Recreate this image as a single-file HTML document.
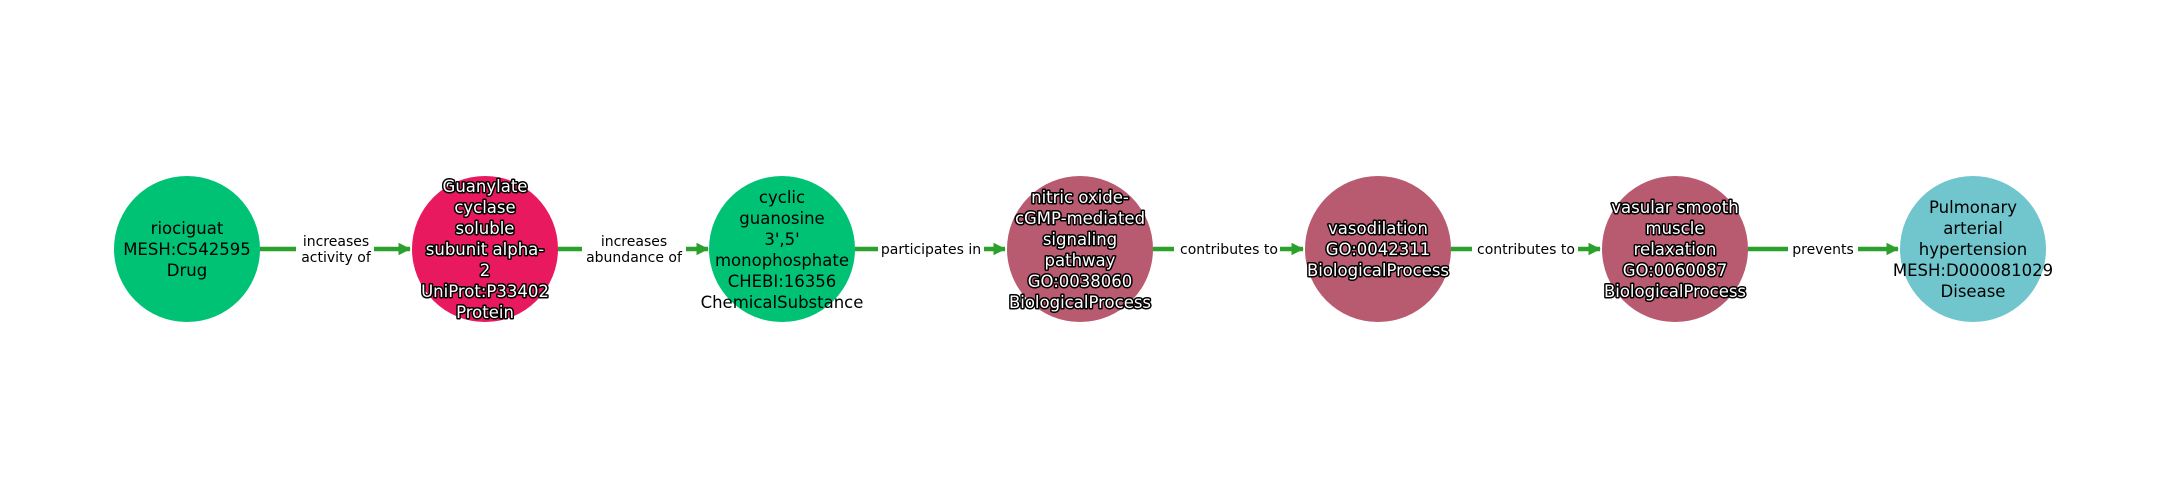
<!DOCTYPE html>
<html><head><meta charset="utf-8"><style>
html,body{margin:0;padding:0;background:#fff;}
svg{display:block;}
text{font-family:"DejaVu Sans","Liberation Sans",sans-serif;}
.n{font-size:16.5px;text-anchor:middle;}
.w{fill:#fff;stroke:#000;stroke-width:3px;paint-order:stroke;stroke-linejoin:round;}
.b{fill:#000;}
.e{font-size:14px;text-anchor:middle;fill:#000;}
</style></head><body>
<svg width="2160" height="500" viewBox="0 0 2160 500" xmlns="http://www.w3.org/2000/svg">
<defs><marker id="a" markerWidth="4" markerHeight="4" refX="2.6" refY="2" orient="auto" markerUnits="strokeWidth"><path d="M0,0.6 L2.8,2 L0,3.4 Z" fill="#2ca02c"/></marker></defs>
<g stroke="#2ca02c" stroke-width="4.5" fill="none">
<line x1="260" y1="249" x2="410" y2="249" marker-end="url(#a)"/>
<line x1="558" y1="249" x2="708" y2="249" marker-end="url(#a)"/>
<line x1="855" y1="249" x2="1005" y2="249" marker-end="url(#a)"/>
<line x1="1153" y1="249" x2="1303" y2="249" marker-end="url(#a)"/>
<line x1="1451" y1="249" x2="1600" y2="249" marker-end="url(#a)"/>
<line x1="1748" y1="249" x2="1898" y2="249" marker-end="url(#a)"/>
</g>
<g fill="#fff">
<rect x="296" y="229" width="78" height="40"/>
<rect x="582" y="229" width="104" height="40"/>
<rect x="878" y="239" width="106" height="20"/>
<rect x="1174" y="239" width="106" height="20"/>
<rect x="1472" y="239" width="106" height="20"/>
<rect x="1788" y="239" width="70" height="20"/>
</g>
<text class="e" x="336" y="246">increases</text><text class="e" x="336" y="262">activity of</text>
<text class="e" x="634" y="246">increases</text><text class="e" x="634" y="262">abundance of</text>
<text class="e" x="931" y="254">participates in</text>
<text class="e" x="1229" y="254">contributes to</text>
<text class="e" x="1526" y="254">contributes to</text>
<text class="e" x="1823" y="254">prevents</text>
<circle cx="187" cy="249" r="73" fill="#00c275"/>
<circle cx="485" cy="249" r="73" fill="#e8195e"/>
<circle cx="782" cy="249" r="73" fill="#00c275"/>
<circle cx="1080" cy="249" r="73" fill="#b85a70"/>
<circle cx="1378" cy="249" r="73" fill="#b85a70"/>
<circle cx="1675" cy="249" r="73" fill="#b85a70"/>
<circle cx="1973" cy="249" r="73" fill="#70c6cc"/>
<text class="n b" x="187"><tspan x="187" y="234">riociguat</tspan><tspan x="187" y="255">MESH:C542595</tspan><tspan x="187" y="276">Drug</tspan></text>
<text class="n w" x="485"><tspan x="485" y="192">Guanylate</tspan><tspan x="485" y="213">cyclase</tspan><tspan x="485" y="234">soluble</tspan><tspan x="485" y="255">subunit alpha-</tspan><tspan x="485" y="276">2</tspan><tspan x="485" y="297">UniProt:P33402</tspan><tspan x="485" y="318">Protein</tspan></text>
<text class="n b" x="782"><tspan x="782" y="203">cyclic</tspan><tspan x="782" y="224">guanosine</tspan><tspan x="782" y="245">3',5'</tspan><tspan x="782" y="266">monophosphate</tspan><tspan x="782" y="287">CHEBI:16356</tspan><tspan x="782" y="308">ChemicalSubstance</tspan></text>
<text class="n w" x="1080"><tspan x="1080" y="203">nitric oxide-</tspan><tspan x="1080" y="224">cGMP-mediated</tspan><tspan x="1080" y="245">signaling</tspan><tspan x="1080" y="266">pathway</tspan><tspan x="1080" y="287">GO:0038060</tspan><tspan x="1080" y="308">BiologicalProcess</tspan></text>
<text class="n w" x="1378"><tspan x="1378" y="234">vasodilation</tspan><tspan x="1378" y="255">GO:0042311</tspan><tspan x="1378" y="276">BiologicalProcess</tspan></text>
<text class="n w" x="1675"><tspan x="1675" y="213">vasular smooth</tspan><tspan x="1675" y="234">muscle</tspan><tspan x="1675" y="255">relaxation</tspan><tspan x="1675" y="276">GO:0060087</tspan><tspan x="1675" y="297">BiologicalProcess</tspan></text>
<text class="n b" x="1973"><tspan x="1973" y="213">Pulmonary</tspan><tspan x="1973" y="234">arterial</tspan><tspan x="1973" y="255">hypertension</tspan><tspan x="1973" y="276">MESH:D000081029</tspan><tspan x="1973" y="297">Disease</tspan></text>
</svg>
</body></html>
